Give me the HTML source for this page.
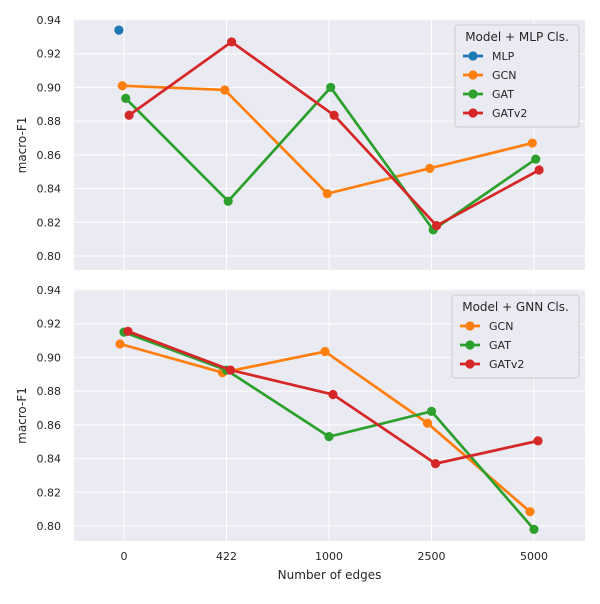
<!DOCTYPE html>
<html><head><meta charset="utf-8"><style>
body{margin:0;background:#fff;font-family:"DejaVu Sans","Liberation Sans",sans-serif}
svg text{font-family:"DejaVu Sans","Liberation Sans",sans-serif;fill:#262626}
</style></head><body>
<svg id="chart" width="600" height="600"></svg>
<script>
const categories=["0","422","1000","2500","5000"];
const yTicks=[0.80,0.82,0.84,0.86,0.88,0.90,0.92,0.94];
const topSeriesNames=["MLP","GCN","GAT","GATv2"];
const topMLP=[0.934,null,null,null,null];
const topGCN=[0.901,0.8985,0.837,0.852,0.867];
const topGAT=[0.8935,0.8325,0.900,0.8155,0.8575];
const topGATv2=[0.8835,0.927,0.8835,0.818,0.851];
const botSeriesNames=["GCN","GAT","GATv2"];
const botGCN=[0.908,0.891,0.9035,0.861,0.8085];
const botGAT=[0.915,0.8925,0.853,0.868,0.798];
const botGATv2=[0.9155,0.8925,0.878,0.837,0.8505];
const colors={MLP:"#1f77b4",GCN:"#ff7f0e",GAT:"#2ca02c",GATv2:"#d62728"};
const NS="http://www.w3.org/2000/svg";
const svg=document.getElementById('chart');
function mk(tag,attrs,parent){const e=document.createElementNS(NS,tag);for(const k in attrs)e.setAttribute(k,attrs[k]);(parent||svg).appendChild(e);return e;}
const X0=74,X1=585;
function xScale(i){return 124+i*102.5;}
function drawPanel(top,bottom,seriesNames,seriesData,offsets,panelName,legendTitle,showX){
  const yS=v=>top+ (0.94-v)*(236/0.14);
  const g=mk('g',{});
  
  
  const bg=mk('rect',{x:X0,y:top-1,width:X1-X0,height:bottom-top+1,fill:"#eaeaf2"},g);
  
  
  yTicks.forEach(t=>{
    const y=yS(t);
    const l=mk('line',{x1:X0,x2:X1,y1:y,y2:y,stroke:"#fff","stroke-width":1},g);
    
    
    const tx=mk('text',{x:X0-13,y:y+4,"text-anchor":"end","font-size":11},g);
    tx.textContent=t.toFixed(2);
    
    
  });
  categories.forEach((c,i)=>{
    const x=xScale(i);
    const l=mk('line',{x1:x,x2:x,y1:top-1,y2:bottom,stroke:"#fff","stroke-width":1},g);
    
    
    if(showX){
      const tx=mk('text',{x:x,y:bottom+19,"text-anchor":"middle","font-size":11},g);
      tx.textContent=c;
      
      
    }
  });
  const yl=mk('text',{x:0,y:0,"text-anchor":"middle","font-size":12,transform:`translate(26,${(top+bottom)/2}) rotate(-90)`},g);
  yl.textContent="macro-F1";
  
  
  seriesNames.forEach((n,si)=>{
    const vals=seriesData[si];const col=colors[n];
    const pts=[];
    vals.forEach((v,i)=>{if(v!=null)pts.push([xScale(i)+offsets[si],yS(v)]);});
    if(pts.length>1){
      const p=mk('polyline',{points:pts.map(p=>p.join(',')).join(' '),fill:"none",stroke:col,"stroke-width":2.7},g);
      
      
    }
    pts.forEach(p=>{
      const c=mk('circle',{cx:p[0],cy:p[1],r:4.6,fill:col},g);
      
      
    });
  });
  const lwid=panelName==='top-panel'?124:127;
  const lh=22+seriesNames.length*19;
  const lx=X1-6-lwid, ly=top+5;
  const lg=mk('g',{},g);
  
  
  mk('rect',{x:lx,y:ly,width:lwid,height:lh+4,fill:"#eaeaf2",stroke:"#ccc",rx:3,"fill-opacity":0.8},lg);
  const lt=mk('text',{x:lx+lwid/2,y:ly+16,"text-anchor":"middle","font-size":12},lg);
  lt.textContent=legendTitle;
  
  
  seriesNames.forEach((n,si)=>{
    const y=ly+35+si*19;
    const e=mk('g',{},lg);
    
    
    mk('line',{x1:lx+8,x2:lx+28,y1:y-4,y2:y-4,stroke:colors[n],"stroke-width":2.7},e);
    mk('circle',{cx:lx+18,cy:y-4,r:4.6,fill:colors[n]},e);
    const t=mk('text',{x:lx+37,y:y,"font-size":11},e);
    t.textContent=n;
  });
}
drawPanel(20,270,topSeriesNames,[topMLP,topGCN,topGAT,topGATv2],[-5.1,-1.7,1.7,5.1],'top-panel','Model + MLP Cls.',false);
drawPanel(290,541,botSeriesNames,[botGCN,botGAT,botGATv2],[-4,0,4],'bottom-panel','Model + GNN Cls.',true);
const xl=mk('text',{x:329.5,y:579,"text-anchor":"middle","font-size":12});
xl.textContent="Number of edges";


</script>
</body></html>
